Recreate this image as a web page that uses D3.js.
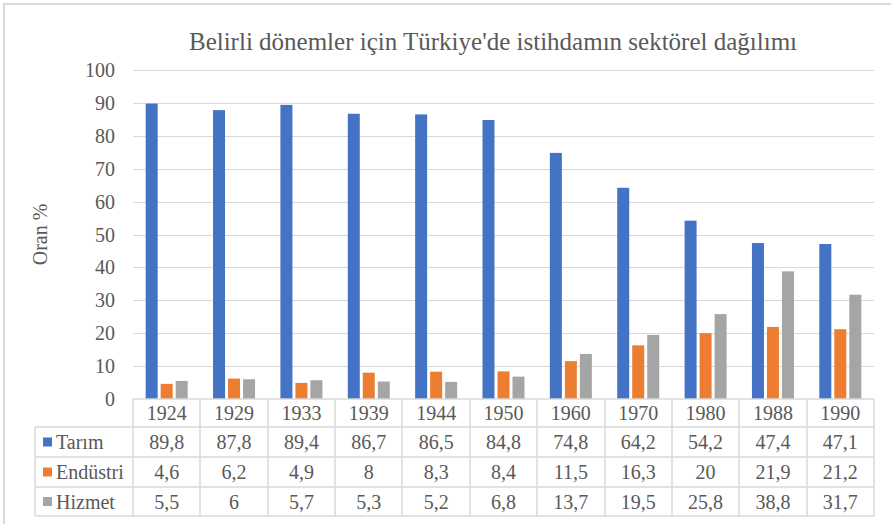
<!DOCTYPE html>
<html>
<head>
<meta charset="utf-8">
<script src="https://cdn.jsdelivr.net/npm/d3@7"></script>
<style>
  body { margin: 0; background: #fff; }
  svg { display: block; }
</style>
</head>
<body>
<svg id="chart" width="891" height="524"></svg>
<script>
const years = ["1924", "1929", "1933", "1939", "1944", "1950", "1960", "1970", "1980", "1988", "1990"];
const seriesNames = ["Tarım", "Endüstri", "Hizmet"];
const tarim = [89.8, 87.8, 89.4, 86.7, 86.5, 84.8, 74.8, 64.2, 54.2, 47.4, 47.1];
const endustri = [4.6, 6.2, 4.9, 8, 8.3, 8.4, 11.5, 16.3, 20, 21.9, 21.2];
const hizmet = [5.5, 6, 5.7, 5.3, 5.2, 6.8, 13.7, 19.5, 25.8, 38.8, 31.7];
const colors = ["#4472C4", "#ED7D31", "#A5A5A5"];
const yTicks = [0, 10, 20, 30, 40, 50, 60, 70, 80, 90, 100];

const series = [tarim, endustri, hizmet];
const fmt = v => String(v).replace(".", ",");

const svg = d3.select("#chart");
const FONT = "Liberation Serif";
const textColor = "#595959";
const gridColor = "#d9d9d9";
const fs = 20;

// outer frame (only top and left edges are visible)
svg.append("path")
    .attr("d", "M4,524 V4 H891")
    .attr("fill", "none")
    .attr("stroke", gridColor)
    .attr("stroke-width", 2);

const plotLeft = 133, plotRight = 874, plotTop = 70, plotBottom = 399;

const x = d3.scaleBand().domain(years).range([plotLeft, plotRight]);
const y = d3.scaleLinear().domain([0, 100]).range([plotBottom, plotTop]);
const inner = d3.scaleBand().domain(seriesNames).range([0, 42]).paddingInner(0.2);

// title
svg.append("text")
    .attr("x", 493).attr("y", 50)
    .attr("text-anchor", "middle")
    .attr("font-family", FONT)
    .attr("font-size", 25)
    .attr("fill", textColor)
    .text("Belirli dönemler için Türkiye'de istihdamın sektörel dağılımı");

// gridlines
svg.append("g")
    .selectAll("line")
    .data(yTicks.filter(d => d > 0))
    .join("line")
    .attr("x1", plotLeft).attr("x2", plotRight)
    .attr("y1", d => Math.round(y(d)) + 0.5)
    .attr("y2", d => Math.round(y(d)) + 0.5)
    .attr("stroke", gridColor);

// y tick labels
svg.append("g")
    .selectAll("text")
    .data(yTicks)
    .join("text")
    .attr("x", 115)
    .attr("y", d => y(d) + 7)
    .attr("text-anchor", "end")
    .attr("font-family", FONT)
    .attr("font-size", fs)
    .attr("fill", textColor)
    .text(d => d);

// y axis title
svg.append("text")
    .attr("transform", `translate(47,${(plotTop + plotBottom) / 2}) rotate(-90)`)
    .attr("text-anchor", "middle")
    .attr("font-family", FONT)
    .attr("font-size", fs)
    .attr("fill", textColor)
    .text("Oran %");

// bars
const groups = svg.append("g")
    .selectAll("g")
    .data(series)
    .join("g")
    .attr("fill", (d, i) => colors[i]);

groups.each(function(vals, si) {
    d3.select(this).selectAll("rect")
        .data(vals)
        .join("rect")
        .attr("x", (d, i) => x(years[i]) + (x.bandwidth() - 42) / 2 + inner(seriesNames[si]))
        .attr("y", d => y(d))
        .attr("width", inner.bandwidth())
        .attr("height", d => y(0) - y(d));
});

// data table
const rowH = [399, 427, 457, 487, 516];
const tableLeft = 35;
const tbl = svg.append("g").attr("stroke", gridColor).attr("fill", "none").attr("stroke-width", 1.5);

rowH.forEach((yy, i) => {
    tbl.append("line")
        .attr("x1", i === 0 ? plotLeft : tableLeft).attr("x2", plotRight)
        .attr("y1", yy).attr("y2", yy);
});
tbl.append("line").attr("x1", tableLeft).attr("x2", tableLeft)
    .attr("y1", rowH[1]).attr("y2", rowH[4]);
years.forEach(yr => {
    tbl.append("line")
        .attr("x1", Math.round(x(yr))).attr("x2", Math.round(x(yr)))
        .attr("y1", rowH[0]).attr("y2", rowH[4]);
});
tbl.append("line").attr("x1", plotRight).attr("x2", plotRight)
    .attr("y1", rowH[0]).attr("y2", rowH[4]);

// header years
svg.append("g")
    .selectAll("text")
    .data(years)
    .join("text")
    .attr("x", d => x(d) + x.bandwidth() / 2)
    .attr("y", (rowH[0] + rowH[1]) / 2 + 7)
    .attr("text-anchor", "middle")
    .attr("font-family", FONT)
    .attr("font-size", fs)
    .attr("fill", textColor)
    .text(d => d);

// rows with legend keys
series.forEach((vals, si) => {
    const cy = (rowH[si + 1] + rowH[si + 2]) / 2;
    svg.append("rect")
        .attr("x", 43).attr("y", cy - 4.5)
        .attr("width", 9).attr("height", 9)
        .attr("fill", colors[si]);
    svg.append("text")
        .attr("x", 56).attr("y", cy + 7)
        .attr("font-family", FONT)
        .attr("font-size", fs)
        .attr("fill", textColor)
        .text(seriesNames[si]);
    svg.append("g")
        .selectAll("text")
        .data(vals)
        .join("text")
        .attr("x", (d, i) => x(years[i]) + x.bandwidth() / 2)
        .attr("y", cy + 7)
        .attr("text-anchor", "middle")
        .attr("font-family", FONT)
        .attr("font-size", fs)
        .attr("fill", textColor)
        .text(d => fmt(d));
});
</script>
</body>
</html>
